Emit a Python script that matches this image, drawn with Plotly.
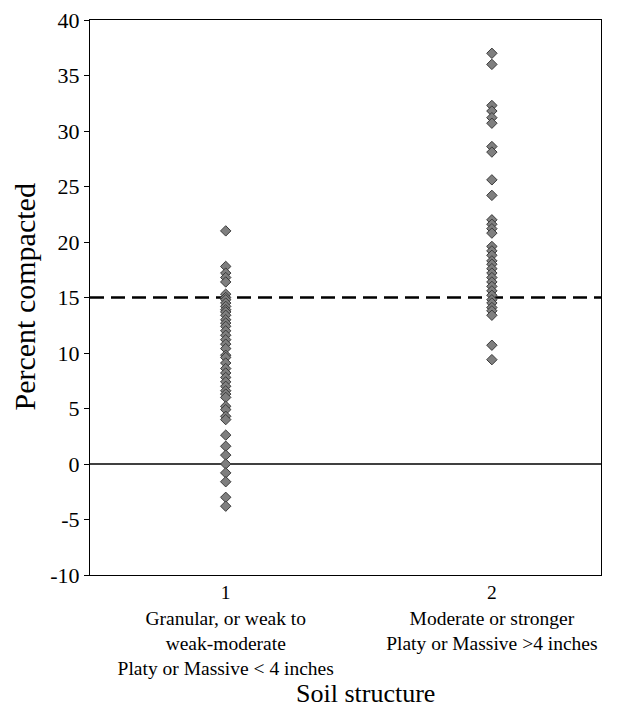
import plotly.graph_objects as go

categories = [1, 2]
tick_labels = [
    "1<br>Granular, or weak to<br>weak-moderate<br>Platy or Massive < 4 inches",
    "2<br>Moderate or stronger<br>Platy or Massive >4 inches",
]
group1 = [21.0, 17.8, 17.2, 16.8, 16.4, 15.3, 15.0, 14.8, 14.5, 14.2, 13.9, 13.7,
          13.4, 13.0, 12.7, 12.4, 12.0, 11.6, 11.2, 10.8, 10.4, 9.8, 9.6, 9.1,
          8.6, 8.2, 7.8, 7.4, 7.0, 6.6, 6.3, 6.0, 5.2, 4.9, 4.3, 4.0, 2.6, 1.6,
          0.8, 0.0, -0.8, -1.6, -3.0, -3.8]
group2 = [37.0, 36.0, 32.3, 31.8, 31.2, 30.7, 28.6, 28.1, 25.6, 24.2, 22.0, 21.6,
          21.2, 20.8, 19.6, 19.2, 18.8, 18.3, 18.0, 17.6, 17.2, 16.8, 16.4, 16.0,
          15.6, 15.2, 14.8, 14.5, 14.1, 13.8, 13.4, 10.7, 9.4]
threshold = 15
y_ticks = [-10, -5, 0, 5, 10, 15, 20, 25, 30, 35, 40]
y_tick_text = [str(v) for v in y_ticks]
x_title = "Soil structure"
y_title = "Percent compacted"

font_family = "Liberation Serif, Times New Roman, serif"

fig = go.Figure()
for cat, vals in zip(categories, [group1, group2]):
    fig.add_trace(go.Scatter(
        x=[cat] * len(vals), y=vals, mode="markers",
        marker=dict(symbol="diamond", size=8, color="#7f7f7f",
                    line=dict(color="#3a3a3a", width=1)),
        showlegend=False, cliponaxis=False,
    ))

fig.add_hline(y=threshold, line=dict(color="black", width=2.5, dash="14px,7px"), layer="below")
fig.add_hline(y=0, line=dict(color="black", width=1.3), layer="below")

fig.update_layout(
    width=621, height=708,
    margin=dict(l=82, r=28, t=12, b=141, autoexpand=False),
    paper_bgcolor="white", plot_bgcolor="white",
    font=dict(family=font_family, size=20, color="black"),
    xaxis=dict(
        range=[0.49, 2.41], tickvals=categories, ticktext=tick_labels,
        showgrid=False, zeroline=False, showline=True, linecolor="black",
        linewidth=1, mirror=True, ticks="", tickfont=dict(size=19.5),
        automargin=False, ticklabeloverflow="allow",
    ),
    yaxis=dict(
        range=[-10, 40], tickvals=y_ticks, ticktext=y_tick_text, showgrid=False,
        zeroline=False, showline=True, linecolor="black", linewidth=1,
        mirror=True, ticks="outside", ticklen=5, tickcolor="black",
        tickfont=dict(size=22), automargin=False, ticklabeloverflow="allow",
    ),
    annotations=[
        dict(text=y_title, x=0, y=0.5, xref="paper", yref="paper",
             xanchor="center", yanchor="middle", xshift=-66, textangle=-90,
             showarrow=False, font=dict(size=30)),
        dict(text=x_title, x=0.54, y=0, xref="paper", yref="paper",
             xanchor="center", yanchor="middle", yshift=-118,
             showarrow=False, font=dict(size=26)),
    ],
)

fig.write_html("out.html")
